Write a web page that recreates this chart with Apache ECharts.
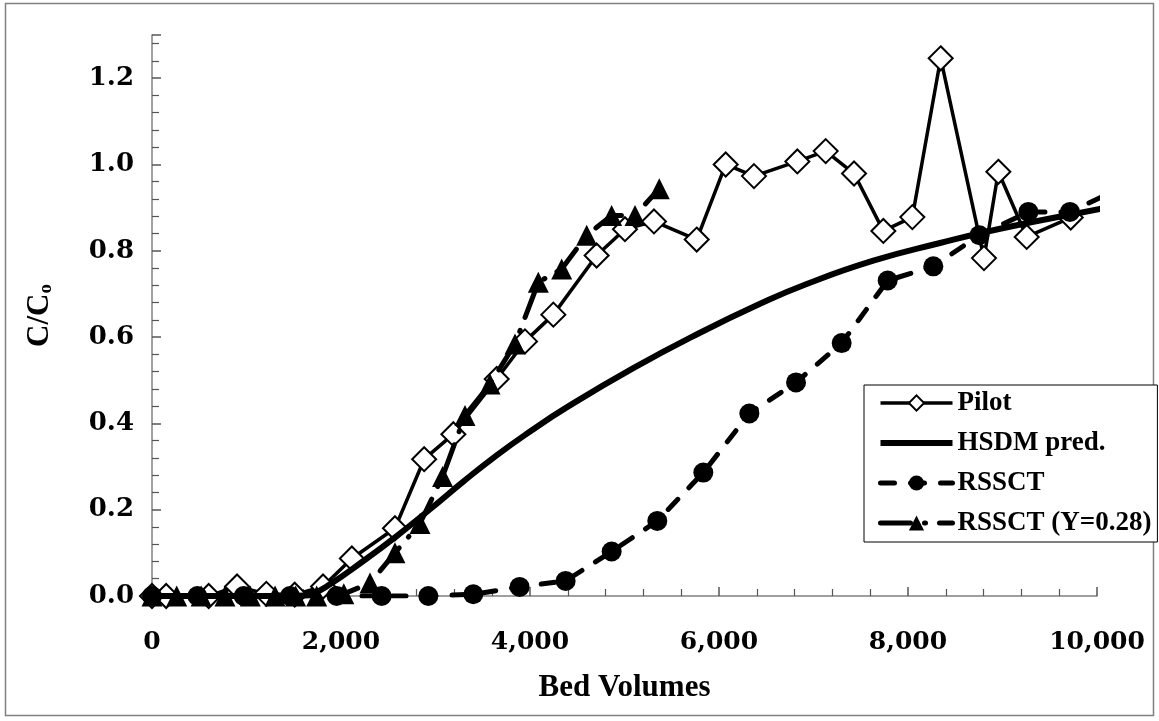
<!DOCTYPE html>
<html>
<head>
<meta charset="utf-8">
<script src="https://cdn.jsdelivr.net/npm/echarts@6/dist/echarts.min.js"></script>
<style>
html,body{margin:0;padding:0;background:#fff;}
#chart{width:1159px;height:721px;}
</style>
</head>
<body>
<div id="chart"></div>
<script>
// ---- data ----
const seriesNames = ['Pilot', 'HSDM pred.', 'RSSCT', 'RSSCT (Y=0.28)'];

const pilotBV = [0, 150, 600, 900, 1210, 1510, 1810, 2115, 2571, 2880, 3189, 3648, 3947, 4247, 4705, 5005, 5312, 5764, 6071, 6370, 6829, 7129, 7429, 7739, 8046, 8346, 8804, 8956, 9256, 9722];
const pilotC  = [0, 0, 0, 0.022, 0.005, 0.003, 0.022, 0.087, 0.157, 0.317, 0.375, 0.503, 0.590, 0.652, 0.789, 0.850, 0.868, 0.826, 1.000, 0.973, 1.007, 1.031, 0.979, 0.846, 0.878, 1.246, 0.783, 0.983, 0.832, 0.877];

const hsdmBV = [0, 1000, 1500, 1600, 1700, 1884, 2236, 2589, 2942, 3294, 3647, 4000, 4388, 5093, 5799, 6434, 6928, 7633, 8339, 8974, 10032, 10200];
const hsdmC  = [0, 0, 0, 0.001, 0.005, 0.027, 0.081, 0.139, 0.201, 0.265, 0.326, 0.381, 0.437, 0.528, 0.610, 0.677, 0.723, 0.777, 0.818, 0.851, 0.897, 0.904];

const rssctBV = [0, 480, 970, 1460, 1954, 2430, 2924, 3400, 3890, 4377, 4864, 5347, 5834, 6321, 6815, 7298, 7785, 8268, 8755, 9274, 9714, 10200];
const rssctC  = [0, 0, 0, 0, 0, 0, 0, 0.004, 0.021, 0.035, 0.103, 0.174, 0.286, 0.423, 0.495, 0.586, 0.731, 0.764, 0.836, 0.890, 0.890, 0.940];

const rssctYBV = [0, 261, 520, 772, 1040, 1302, 1520, 1743, 2030, 2307, 2571, 2836, 3075, 3312, 3577, 3841, 4088, 4335, 4600, 4864, 5111, 5368];
const rssctYC  = [0, 0, 0, 0, 0, 0, 0, 0, 0.005, 0.030, 0.100, 0.168, 0.277, 0.418, 0.491, 0.584, 0.727, 0.758, 0.836, 0.882, 0.882, 0.944];

const xTicks = { min: 0, max: 10000, step: 2000 };
const yTicks = { min: 0, max: 1.3, step: 0.2 };

function pairs(xs, ys) { return xs.map((x, i) => [x, ys[i]]); }

const chart = echarts.init(document.getElementById('chart'));
const labelFont = 'DejaVu Serif';
const textFont = 'Liberation Serif';

const pilotLine = { color: '#000', width: 3.5 };
const hsdmLine = { color: '#000', width: 6 };
const rssctLine = { color: '#000', width: 5, type: [14, 16], cap: 'round' };
const rssctYLine = { color: '#000', width: 5, type: [30, 14, 1, 14], cap: 'round' };

chart.setOption({
  animation: false,
  backgroundColor: '#fff',
  grid: { left: 152, right: 62, top: 35, bottom: 125, containLabel: false },
  xAxis: {
    type: 'value', min: xTicks.min, max: xTicks.max, interval: xTicks.step,
    name: 'Bed Volumes', nameLocation: 'middle', nameGap: 76,
    nameTextStyle: { fontFamily: textFont, fontWeight: 'bold', fontSize: 31, color: '#000' },
    axisLine: { show: true, onZero: false, lineStyle: { color: '#808080', width: 1.5 } },
    axisTick: { show: true, inside: true, length: 9, lineStyle: { color: '#555', width: 1.5 } },
    minorTick: { show: true, splitNumber: 5, length: 7, lineStyle: { color: '#555', width: 1.2 } },
    splitLine: { show: false },
    axisLabel: { margin: 34, fontFamily: labelFont, fontWeight: 'bold', fontSize: 25, color: '#000',
      formatter: v => v.toLocaleString('en-US') }
  },
  yAxis: {
    type: 'value', min: yTicks.min, max: yTicks.max, interval: yTicks.step,
    name: 'C/C{s|o}', nameLocation: 'middle', nameGap: 96, nameRotate: 90,
    nameTextStyle: { fontFamily: textFont, fontWeight: 'bold', fontSize: 31, color: '#000',
      rich: { s: { fontFamily: textFont, fontWeight: 'bold', fontSize: 19, color: '#000', verticalAlign: 'bottom', padding: [14, 0, 0, 0] } } },
    axisLine: { show: true, onZero: false, lineStyle: { color: '#808080', width: 1.5 } },
    axisTick: { show: true, inside: true, length: 9, lineStyle: { color: '#555', width: 1.5 } },
    minorTick: { show: true, splitNumber: 5, length: 7, lineStyle: { color: '#555', width: 1.2 } },
    splitLine: { show: false },
    axisLabel: { margin: 18, showMaxLabel: false, fontFamily: labelFont, fontWeight: 'bold', fontSize: 26, color: '#000',
      formatter: v => v.toFixed(1) }
  },
  legend: {
    orient: 'vertical', left: 864, top: 385,
    data: [
      { name: seriesNames[0], lineStyle: pilotLine },
      { name: seriesNames[1], icon: 'path://M0,0H72V6H0Z', itemStyle: { color: '#000' } },
      { name: seriesNames[2], lineStyle: rssctLine },
      { name: seriesNames[3], lineStyle: rssctYLine }
    ],
    backgroundColor: '#fff', borderColor: '#000', borderWidth: 1,
    padding: [3, 6, 4, 14], itemGap: 10, itemWidth: 72, itemHeight: 19,
    textStyle: { fontFamily: textFont, fontWeight: 'bold', fontSize: 27, lineHeight: 30, color: '#000' }
  },
  graphic: [{
    type: 'rect', shape: { x: 5.5, y: 3.5, width: 1148, height: 712 },
    style: { fill: 'none', stroke: '#808080', lineWidth: 1.5 }, silent: true, z: -10
  }],
  series: [
    {
      name: seriesNames[0], type: 'line', data: pairs(pilotBV, pilotC),
      symbol: 'diamond', symbolSize: 24,
      itemStyle: { color: '#fff', borderColor: '#000', borderWidth: 2 },
      lineStyle: pilotLine, z: 2
    },
    {
      name: seriesNames[1], type: 'line', data: pairs(hsdmBV, hsdmC),
      symbol: 'none', smooth: 0.5,
      itemStyle: { color: '#000' },
      lineStyle: hsdmLine, z: 3
    },
    {
      name: seriesNames[2], type: 'line', data: pairs(rssctBV, rssctC),
      symbol: 'circle', symbolSize: 20,
      itemStyle: { color: '#000' },
      lineStyle: rssctLine, z: 4
    },
    {
      name: seriesNames[3], type: 'line', data: pairs(rssctYBV, rssctYC),
      symbol: 'triangle', symbolSize: 21,
      itemStyle: { color: '#000' },
      lineStyle: rssctYLine, z: 5
    }
  ]
});
</script>
</body>
</html>
